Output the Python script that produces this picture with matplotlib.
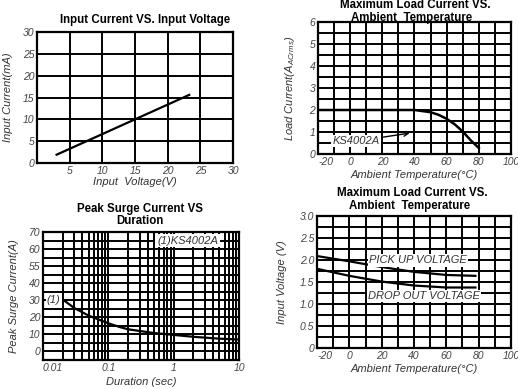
import numpy as np
import matplotlib
matplotlib.use('Agg')
import matplotlib.pyplot as plt
from matplotlib.ticker import FixedLocator, NullFormatter

plt.rcParams['font.family'] = ['Liberation Sans', 'DejaVu Sans']
plt.rcParams['axes.unicode_minus'] = False

# chart 1: input current vs input voltage
volt_in = [3, 23.3]
curr_in = [1.9, 15.6]

# chart 2: max load current vs ambient temperature
temp_load = [-20, 0, 20, 40, 50, 55, 60, 65, 70, 75, 80]
curr_load = [2.0, 2.0, 2.0, 2.0, 1.9, 1.78, 1.6, 1.35, 1.02, 0.62, 0.27]

# chart 3: peak surge current vs duration
dur = [0.02, 0.03, 0.05, 0.1, 0.15, 0.2, 0.5, 1, 2, 5, 10]
surge = [30.5, 25.5, 21, 16.5, 14.3, 13, 10.8, 9.7, 8.6, 7.5, 7.0]
surge_ticks = [0, 10, 20, 30, 40, 50, 60, 70]
surge_labels = ['0', '10', '20', '30', '40', '55', '60', '70']

# chart 4: pick up / drop out voltage vs ambient temperature
temp_v = [-20, 0, 20, 40, 60, 78]
pick_up = [2.09, 1.97, 1.84, 1.73, 1.66, 1.64]
drop_out = [1.80, 1.64, 1.51, 1.42, 1.375, 1.375]

W, H = 518, 389
fig = plt.figure(figsize=(W / 100, H / 100), dpi=100)

GRID = dict(color='black', lw=1.4)
TICK = dict(fontsize=7.5, style='italic', color='#444444')
LAB = dict(fontsize=8, style='italic', color='#333333')
TTL = dict(fontsize=8.3, fontweight='bold')
NOTE = dict(style='italic', color='#333333', va='center')


def ax_px(l, t, r, b):
    return fig.add_axes([l / W, 1 - b / H, (r - l) / W, (b - t) / H])


def style(ax):
    for s in ax.spines.values():
        s.set_linewidth(1.6)
    ax.tick_params(which='both', length=0, pad=2)
    ax.grid(which='both', **GRID)
    ax.set_axisbelow(True)
    for t in ax.get_xticklabels() + ax.get_yticklabels():
        t.set(**TICK)


def white():
    return dict(boxstyle='square,pad=0.1', fc='white', ec='none')


# ---- chart 1
ax1 = ax_px(37, 32, 233, 163)
ax1.set_xlim(0, 30)
ax1.set_ylim(0, 30)
ax1.set_xticks([5, 10, 15, 20, 25, 30])
ax1.set_yticks([0, 5, 10, 15, 20, 25, 30])
ax1.plot(volt_in, curr_in, color='black', lw=1.6)
style(ax1)
ax1.set_xlabel('Input  Voltage(V)', labelpad=1, **LAB)
ax1.set_ylabel('Input Current(mA)', labelpad=7, **LAB)
fig.text(145 / W, 1 - 20 / H, 'Input Current VS. Input Voltage', ha='center', va='center', **TTL)

# ---- chart 2
ax2 = ax_px(318, 22, 511, 154)
ax2.set_xlim(-20, 100)
ax2.set_ylim(0, 6)
ax2.set_xticks(range(-20, 101, 20))
ax2.xaxis.set_minor_locator(FixedLocator(range(-10, 100, 20)))
ax2.set_yticks(range(0, 7))
ax2.yaxis.set_minor_locator(FixedLocator(np.arange(0.5, 6, 1)))
ax2.plot(temp_load, curr_load, color='black', lw=1.8)
style(ax2)
ax2.get_xticklabels()[0].set_ha('left')
ax2.set_xlabel('Ambient Temperature(°C)', labelpad=2, **LAB)
ax2.set_ylabel('Load Current(A$_\\mathregular{ACrms}$)', labelpad=9, **LAB)
ax2.annotate('KS4002A', xy=(37, 0.95), xytext=(-11, 0.58), fontsize=8, bbox=white(),
             arrowprops=dict(arrowstyle='->', color='black', lw=1, shrinkA=2, shrinkB=0), **NOTE)
fig.text(415 / W, 1 - 5 / H, 'Maximum Load Current VS.', ha='center', va='center', **TTL)
fig.text(412 / W, 1 - 18 / H, 'Ambient  Temperature', ha='center', va='center', **TTL)

# ---- chart 3
ax3 = ax_px(43, 232, 239, 360)
ax3.set_xscale('log')
ax3.set_xlim(0.01, 10)
ax3.set_ylim(-5, 70)
ax3.set_xticks([0.01, 0.1, 1, 10])
ax3.set_xticklabels(['0.01', '0.1', '1', '10'])
ax3.xaxis.set_minor_formatter(NullFormatter())
ax3.set_yticks(surge_ticks)
ax3.set_yticklabels(surge_labels)
ax3.yaxis.set_minor_locator(FixedLocator(np.arange(-5, 70, 10)))
ax3.plot(dur, surge, color='black', lw=1.6)
style(ax3)
ax3.get_xticklabels()[0].set_ha('left')
ax3.set_xlabel('Duration (sec)', labelpad=3, **LAB)
ax3.set_ylabel('Peak Surge Current(A)', labelpad=7, **LAB)
ax3.text(0.0115, 30, '(1)', fontsize=8, bbox=white(), **NOTE)
ax3.text(1.63, 65, '(1)KS4002A', fontsize=8, ha='center',
         bbox=dict(boxstyle='square,pad=0.15', fc='white', ec='none'), **NOTE)
fig.text(140 / W, 1 - 209 / H, 'Peak Surge Current VS', ha='center', va='center', **TTL)
fig.text(140 / W, 1 - 221 / H, 'Duration', ha='center', va='center', **TTL)

# ---- chart 4
ax4 = ax_px(317, 216, 511, 348)
ax4.set_xlim(-20, 100)
ax4.set_ylim(0, 3)
ax4.set_xticks(range(-20, 101, 20))
ax4.xaxis.set_minor_locator(FixedLocator(range(-10, 100, 20)))
ax4.set_yticks(np.arange(0, 3.01, 0.5))
ax4.set_yticklabels(['0', '0.5', '1.0', '1.5', '2.0', '2.5', '3.0'])
ax4.yaxis.set_minor_locator(FixedLocator(np.arange(0.25, 3, 0.5)))
ax4.plot(temp_v, pick_up, color='black', lw=1.6)
ax4.plot(temp_v, drop_out, color='black', lw=1.6)
style(ax4)
ax4.get_xticklabels()[0].set_ha('left')
ax4.set_xlabel('Ambient Temperature(°C)', labelpad=2, **LAB)
ax4.set_ylabel('Input Voltage (V)', labelpad=9, **LAB)
ax4.text(42.5, 1.99, 'PICK UP VOLTAGE', fontsize=8, ha='center', bbox=white(), **NOTE)
ax4.text(46, 1.19, 'DROP OUT VOLTAGE', fontsize=8, ha='center', bbox=white(), **NOTE)
fig.text(412 / W, 1 - 193 / H, 'Maximum Load Current VS.', ha='center', va='center', **TTL)
fig.text(410 / W, 1 - 206 / H, 'Ambient  Temperature', ha='center', va='center', **TTL)

fig.savefig('out.png', dpi=100)
